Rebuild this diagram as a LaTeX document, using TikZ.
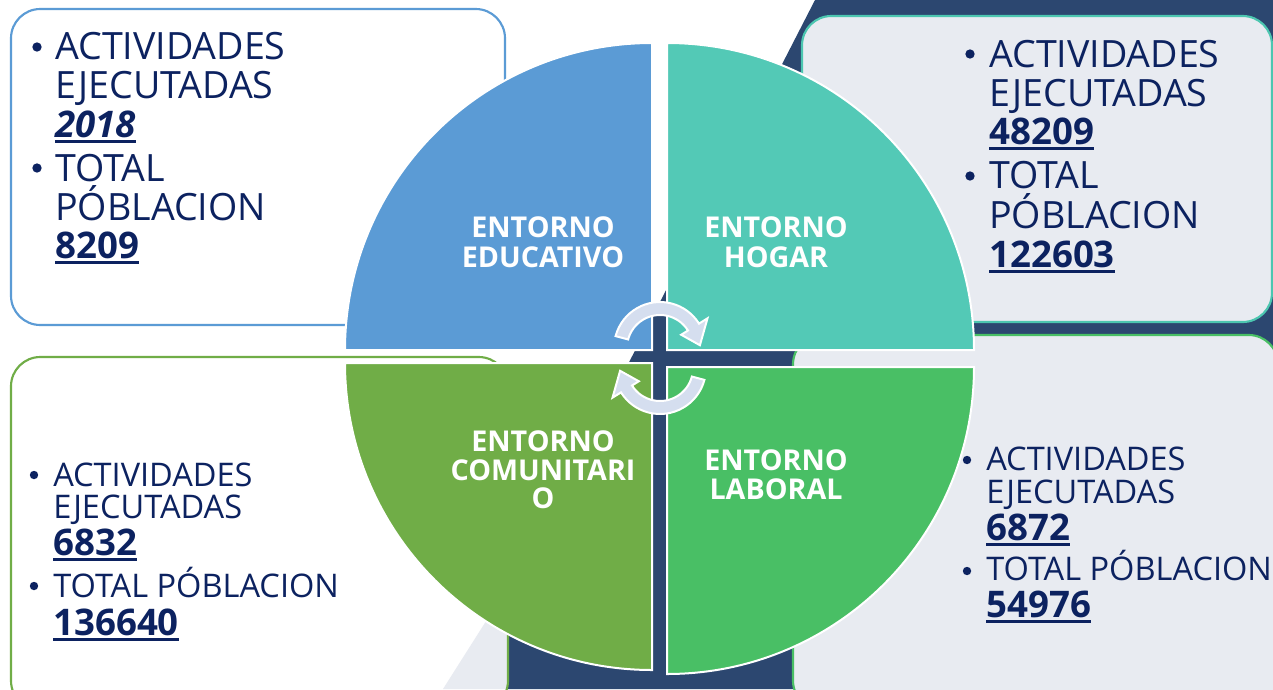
\documentclass[tikz,border=0pt]{standalone}
\usepackage{fontspec}
\setmainfont{Open Sans}
\definecolor{navy}{HTML}{2C4770}
\definecolor{pgrey}{HTML}{E8EBF1}
\definecolor{qblue}{HTML}{5B9BD5}
\definecolor{qteal}{HTML}{53C9B6}
\definecolor{qgreenA}{HTML}{70AD47}
\definecolor{qgreenB}{HTML}{49BF65}
\definecolor{tealborder}{HTML}{4CC6B0}
\definecolor{txtblue}{HTML}{0C2260}
\definecolor{arrfill}{HTML}{D5DEEF}
\newcommand\ulnum[1]{\setbox0=\hbox{#1}\rlap{\rule[-0.17em]{\wd0}{0.09em}}\box0}
\tikzset{
  btx/.style={anchor=base west, inner sep=0pt, text=txtblue, font=\fontsize{28.2}{30}\selectfont},
  numtx/.style={anchor=base west, inner sep=0pt, text=txtblue, font=\bfseries\fontsize{27.5}{30}\selectfont},
  stx/.style={anchor=base west, inner sep=0pt, text=txtblue, font=\fontsize{24.4}{26}\selectfont},
  bbul/.style={circle, fill=txtblue, inner sep=0pt, minimum size=7pt},
  sbul/.style={circle, fill=txtblue, inner sep=0pt, minimum size=6.3pt},
  qlab/.style={anchor=base, inner sep=0pt, text=white, font=\bfseries\fontsize{21.5}{23}\selectfont},
  quad/.style={draw=white, line width=1.5pt},
  infobox/.style={line width=1.6pt, rounded corners=22pt},
  cyclearrow/.style={fill=arrfill, draw=white, line width=1.5pt, line join=miter},
}
\begin{document}
\begin{tikzpicture}[x=0.75pt, y=-0.75pt]
\path[use as bounding box] (0,0) rectangle (1273,689);
\clip (0,0) rectangle (1273,689);
% background
\fill[white] (0,0) rectangle (1273,689);
\fill[pgrey] (880,0) -- (1273,0) -- (1273,689) -- (443,689) -- cycle;
\fill[navy] (815,0) -- (1273,0) -- (1273,689) -- (508,689) -- (508,598) -- cycle;
% info boxes
\draw[infobox, draw=qblue, fill=white] (11,9) rectangle (505,325);
\draw[infobox, draw=tealborder, fill=pgrey] (802,16) rectangle (1272,322);
\draw[infobox, draw=qgreenA] (11,357) rectangle (508,710);
\draw[infobox, draw=qgreenB, fill=pgrey] (793,335) rectangle (1278,710);
% quadrants
\filldraw[quad, fill=qblue] (652,350) -- (345,350) arc[start angle=180, end angle=270, radius=307] -- cycle;
\filldraw[quad, fill=qteal] (667,350) -- (667,43) arc[start angle=270, end angle=360, radius=307] -- cycle;
\filldraw[quad, fill=qgreenA] (652,363) -- (652,670) arc[start angle=90, end angle=180, radius=307] -- cycle;
\filldraw[quad, fill=qgreenB] (667,367) -- (974,367) arc[start angle=0, end angle=90, radius=307] -- cycle;
% cycle arrows
\begin{scope}[shift={(660,348)}]
\filldraw[cyclearrow] (195:46) arc[start angle=195, end angle=328, radius=46] -- (328:56) -- (356:40) -- (328:25) -- (328:33) arc[start angle=328, end angle=195, radius=33] -- cycle;
\end{scope}
\begin{scope}[shift={(660,368)}]
\filldraw[cyclearrow] (15:46) arc[start angle=15, end angle=148, radius=46] -- (148:56) -- (176:40) -- (148:25) -- (148:33) arc[start angle=148, end angle=15, radius=33] -- cycle;
\end{scope}
% quadrant labels
\node[qlab] (qe1) at (543,237) {ENTORNO};
\node[qlab] (qe2) at (543,267) {EDUCATIVO};
\node[qlab] (qh1) at (776,237) {ENTORNO};
\node[qlab] (qh2) at (776,267) {HOGAR};
\node[qlab] (qc1) at (543,451) {ENTORNO};
\node[qlab] (qc2) at (543,480) {COMUNITARI};
\node[qlab] (qc3) at (543,508) {O};
\node[qlab] (ql1) at (776,470) {ENTORNO};
\node[qlab] (ql2) at (776,499) {LABORAL};
% top-left texts
\node[bbul] (tlb1) at (37,47) {};
\node[btx] (tl1) at (55,59) {ACTIVIDADES};
\node[btx] (tl2) at (55,98) {EJECUTADAS};
\node[numtx] (tl3) at (55,137) {\ulnum{\itshape 2018}};
\node[bbul] (tlb2) at (37,168) {};
\node[btx] (tl4) at (55,181) {TOTAL};
\node[btx] (tl5) at (55,220) {PÓBLACION};
\node[numtx] (tl6) at (55,258) {\ulnum{8209}};
% top-right texts
\node[bbul] (trb1) at (970,54) {};
\node[btx] (tr1) at (989,67) {ACTIVIDADES};
\node[btx] (tr2) at (989,106) {EJECUTADAS};
\node[numtx] (tr3) at (989,144) {\ulnum{48209}};
\node[bbul] (trb2) at (970,176) {};
\node[btx] (tr4) at (989,188) {TOTAL};
\node[btx] (tr5) at (989,228) {PÓBLACION};
\node[numtx] (tr6) at (989,267) {\ulnum{122603}};
% bottom-left texts
\node[sbul] (blb1) at (34,475) {};
\node[stx] (bl1) at (53,486) {ACTIVIDADES};
\node[stx] (bl2) at (53,518) {EJECUTADAS};
\node[numtx] (bl3) at (53,555) {\ulnum{6832}};
\node[sbul] (blb2) at (34,586) {};
\node[stx] (bl4) at (53,597) {TOTAL PÓBLACION};
\node[numtx] (bl5) at (53,635) {\ulnum{136640}};
% bottom-right texts
\node[sbul] (brb1) at (967,460) {};
\node[stx] (br1) at (986,470) {ACTIVIDADES};
\node[stx] (br2) at (986,503) {EJECUTADAS};
\node[numtx] (br3) at (986,540) {\ulnum{6872}};
\node[sbul] (brb2) at (967,571) {};
\node[stx] (br4) at (986,580) {TOTAL PÓBLACION};
\node[numtx] (br5) at (986,617) {\ulnum{54976}};
\end{tikzpicture}
\end{document}
